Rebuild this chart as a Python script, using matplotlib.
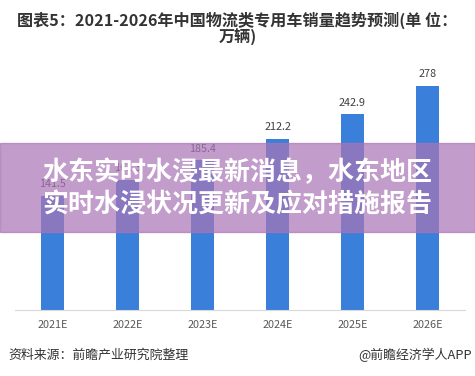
import numpy as np
import matplotlib.pyplot as plt
from matplotlib.patches import Rectangle

plt.rcParams['font.family'] = ['Noto Sans CJK SC', 'DejaVu Sans']

years = ['2021E', '2022E', '2023E', '2024E', '2025E', '2026E']
sales = [141.5, 161.3, 185.4, 212.2, 242.9, 278]
title = '图表5：2021-2026年中国物流类专用车销量趋势预测(单 位：\n万辆)'
banner = '水东实时水浸最新消息，水东地区\n实时水浸状况更新及应对措施报告'

fig = plt.figure(figsize=(4.75, 3.76), dpi=100)
ax = fig.add_axes([15/475, 1 - 310/376, 450/475, 242/376])

x = np.arange(len(years))
bars = ax.bar(x, sales, width=0.31, color='#3a7fd9', zorder=2)
for xi, v in zip(x, sales):
    ax.text(xi, v + 8, f'{v:g}', ha='center', va='bottom', fontsize=7.8, color='#404040')

ax.set_xlim(-0.5, 5.5)
ax.set_ylim(0, 300)
ax.set_xticks(x)
ax.set_xticklabels(years, fontsize=7.8, color='#595959')
ax.tick_params(axis='x', length=0, pad=7)
ax.set_yticks([])
for s in ['top', 'right', 'left']:
    ax.spines[s].set_visible(False)
ax.spines['bottom'].set_color('#d9d9d9')

fig.text(0.5, 1 - 29/376, title, ha='center', va='center', fontsize=11.6,
         fontweight='bold', color='#333333', linespacing=1.0)

fig.text(8/475, 1 - 355/376, '资料来源：前瞻产业研究院整理', ha='left', va='center',
         fontsize=9.3, color='#333333')
fig.text(472/475, 1 - 355/376, '@前瞻经济学人APP', ha='right', va='center',
         fontsize=9.3, color='#333333')

# translucent banner across the middle
fig.patches.append(Rectangle((0, 1 - 232/376), 1, 89/376, transform=fig.transFigure,
                             color='#aa75b6', alpha=0.71, zorder=5))
fig.text(0.5, 1 - 189/376, banner, ha='center', va='center', fontsize=18.7,
         fontweight='heavy', color='white', linespacing=1.25, zorder=6)

plt.savefig('out.png', dpi=100)
